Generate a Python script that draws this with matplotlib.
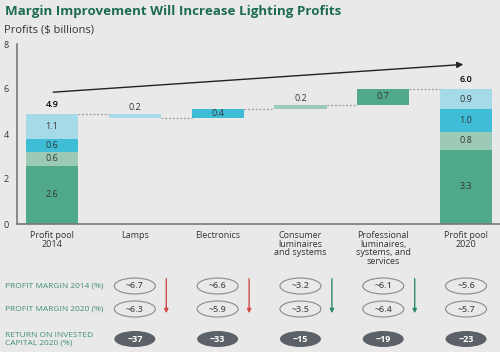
import matplotlib
matplotlib.use("Agg")
import matplotlib.pyplot as plt
from matplotlib.patches import Ellipse
from matplotlib.transforms import blended_transform_factory

# ---- data ----
categories = ["Profit pool\n2014", "Lamps", "Electronics", "Consumer\nluminaires\nand systems",
              "Professional\nluminaires,\nsystems, and\nservices", "Profit pool\n2020"]
pool_2014 = [2.6, 0.6, 0.6, 1.1]
pool_2020 = [3.3, 0.8, 1.0, 0.9]
changes = [-0.2, 0.4, 0.2, 0.7]          # Lamps, Electronics, Consumer, Professional
change_labels = ["0.2", "0.4", "0.2", "0.7"]
total_2014_label = "4.9"
total_2020_label = "6.0"
margin_2014 = ["~6.7", "~6.6", "~3.2", "~6.1", "~5.6"]
margin_2020 = ["~6.3", "~5.9", "~3.5", "~6.4", "~5.7"]
roic_2020 = ["~37", "~33", "~15", "~19", "~23"]
arrow_dirs = ["red", "red", "green", "green"]
yticks = [0, 2, 4, 6, 8]

# ---- styles ----
BG = "#e9e9e9"
C_DARK = "#4fa98a"
C_SAGE = "#9ccab7"
C_CYAN = "#3fbdd6"
C_LIGHT = "#a5dbe8"
stack_colors = [C_DARK, C_SAGE, C_CYAN, C_LIGHT]
change_colors = [C_LIGHT, C_CYAN, C_SAGE, C_DARK]
TXT = "#333333"
GREEN_T = "#1d6b52"
ROW_T = "#3f8f6e"

plt.rcParams['font.family'] = ['Open Sans', 'DejaVu Sans']

fig = plt.figure(figsize=(5.0, 3.52), dpi=100, facecolor=BG)
ax = fig.add_axes([0.034, 1 - 224 / 352, 0.966, (224 - 44) / 352])
ax.set_facecolor(BG)
ax.set_ylim(0, 8)
ax.set_xlim(-0.423, 5.41)
W = 0.63

# stacked bars
for pos, vals in [(0, pool_2014), (5, pool_2020)]:
    b = 0
    for v, c in zip(vals, stack_colors):
        ax.bar(pos, v, bottom=b, width=W, color=c, edgecolor='none')
        ax.text(pos, b + v / 2, f"{v:.1f}", ha='center', va='center', fontsize=6.5, color=TXT)
        b += v
    ax.text(pos, b + 0.2, total_2014_label if pos == 0 else total_2020_label,
            ha='center', va='bottom', fontsize=6.5, color='black', fontweight='semibold')

# waterfall
level = sum(pool_2014)
prev_right = 0 + W / 2
for i, (d, lab, c) in enumerate(zip(changes, change_labels, change_colors)):
    x = i + 1
    bottom = level + min(d, 0)
    ax.bar(x, abs(d), bottom=bottom, width=W, color=c, edgecolor='none')
    ax.plot([prev_right, x - W / 2], [level, level], ls=(0, (1.5, 1.5)), color='#9a9a9a', lw=0.9)
    if abs(d) >= 0.35:
        ax.text(x, bottom + abs(d) / 2, lab, ha='center', va='center', fontsize=6.5, color=TXT)
    else:
        ax.text(x, bottom + abs(d) + 0.08, lab, ha='center', va='bottom', fontsize=6.5, color=TXT)
    level += d
    prev_right = x + W / 2
ax.plot([prev_right, 5 - W / 2], [level, level], ls=(0, (1.5, 1.5)), color='#9a9a9a', lw=0.9)

# trend arrow
ax.annotate("", xy=(5.0, 7.1), xytext=(-0.02, 5.85),
            arrowprops=dict(arrowstyle='-|>', color='#222222', lw=1.0, mutation_scale=9))

# axes styling
for s in ['top', 'right']:
    ax.spines[s].set_visible(False)
ax.spines['left'].set_color('#777777')
ax.spines['bottom'].set_color('#777777')
ax.spines['left'].set_linewidth(1.2)
ax.spines['bottom'].set_linewidth(1.2)
ax.set_yticks(yticks)
ax.set_yticklabels([str(t) for t in yticks], fontsize=6.5, color=TXT)
ax.set_xticks(range(len(categories)))
ax.set_xticklabels(categories, fontsize=6.5, color=TXT, linespacing=0.95, va='top')
ax.tick_params(length=0, pad=5)
ax.tick_params(axis='y', pad=6)

# titles
fig.text(0.01, 1 - 12 / 352, "Margin Improvement Will Increase Lighting Profits",
         fontsize=9.6, fontweight='bold', color=GREEN_T, va='center')
fig.text(0.008, 1 - 30 / 352, "Profits ($ billions)", fontsize=8, color=TXT, va='center')

# table
tr = blended_transform_factory(ax.transData, fig.transFigure)
rows_y = [1 - 286 / 352, 1 - 309 / 352, 1 - 339 / 352]
fig.text(0.01, rows_y[0], "PROFIT MARGIN 2014 (%)", fontsize=6, color=ROW_T, va='center')
fig.text(0.01, rows_y[1], "PROFIT MARGIN 2020 (%)", fontsize=6, color=ROW_T, va='center')
fig.text(0.01, rows_y[2], "RETURN ON INVESTED\nCAPITAL 2020 (%)", fontsize=6, color=ROW_T,
         va='center', linespacing=1.0)
ew = 41 / 82.8
eh = 16 / 352
for j in range(5):
    x = j + 1
    for yy, lab in [(rows_y[0], margin_2014[j]), (rows_y[1], margin_2020[j])]:
        fig.patches.append(Ellipse((x, yy), ew, eh, transform=tr, facecolor=BG,
                                   edgecolor='#8a8a8a', lw=0.8))
        fig.text(x, yy, lab, transform=tr, ha='center', va='center', fontsize=6.5,
                 color='#555555', fontweight='semibold')
    fig.patches.append(Ellipse((x, rows_y[2]), ew, eh, transform=tr, facecolor='#5b6166',
                               edgecolor='none'))
    fig.text(x, rows_y[2], roic_2020[j], transform=tr, ha='center', va='center', fontsize=6.5,
             color='white', fontweight='bold')

for j, c in enumerate(arrow_dirs):
    x = j + 1 + 0.38
    col = '#d24a43' if c == 'red' else '#2b8a68'
    ax.annotate("", xy=(x, 1 - 316 / 352), xytext=(x, 1 - 276 / 352),
                xycoords=tr, textcoords=tr,
                arrowprops=dict(arrowstyle='-|>', color=col, lw=1.0, mutation_scale=6),
                annotation_clip=False)

fig.savefig("out.png", dpi=100, facecolor=BG)
